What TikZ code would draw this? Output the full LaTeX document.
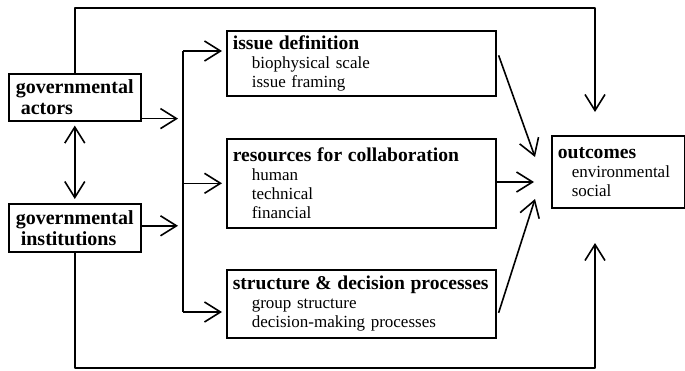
\documentclass[tikz,border=0pt]{standalone}
\usepackage{fontspec}
\setmainfont{Liberation Serif}
\usetikzlibrary{arrows.meta}
% heading and indented item lines inside the boxes
\newcommand\boxhead[1]{\mbox{\bfseries\fontsize{19.6}{19}\selectfont #1}}
\newcommand\subind{\hspace*{19pt}}
\begin{document}
\begin{tikzpicture}[x=1pt,y=-1pt,
  box/.style={draw, line width=1.6pt, inner xsep=6pt, inner ysep=0pt,
    align=left, anchor=north west, font=\fontsize{17}{19}\selectfont},
  wire/.style={line width=1.6pt, line join=round},
  arr/.style={wire, -{Straight Barb[length=16pt,width=20pt]}},
  dblarr/.style={wire, {Straight Barb[length=16pt,width=20pt]}-{Straight Barb[length=16pt,width=20pt]}}]
\useasboundingbox (0,0) rectangle (685,370);

% actors and institutions
\node[box, text width=118pt, minimum height=47pt, inner xsep=7pt,
  font=\bfseries\fontsize{20}{21}\selectfont] (actors) at (8,73)
  {governmental\\\hspace*{5pt}actors};
\node[box, text width=118pt, minimum height=48pt, inner xsep=7pt,
  font=\bfseries\fontsize{20}{21}\selectfont] (inst) at (8,203)
  {governmental\\\hspace*{5pt}institutions};

% middle column
\node[box, text width=257pt, minimum height=65pt] (issue) at (226,30)
  {\boxhead{issue definition}\\\subind biophysical scale\\\subind issue framing};
\node[box, text width=257pt, minimum height=89pt] (res) at (226,138)
  {\boxhead{resources for collaboration}\\\subind human\\\subind technical\\\subind financial};
\node[box, text width=257pt, minimum height=68pt] (struct) at (226,269)
  {\boxhead{structure \& decision processes}\\\subind group structure\\\subind decision-making processes};

% outcomes
\node[box, text width=121pt, minimum height=72pt] (out) at (551,135)
  {\boxhead{outcomes}\\\hspace*{14pt}environmental\\\hspace*{14pt}social};

% distribution bar
\coordinate (bartop) at (183,51);
\coordinate (barbot) at (183,312);
\draw[wire] (bartop) -- (barbot);

% feeds into the bar
\draw[arr, shorten >=5pt] ([yshift=3pt]actors.south east) -- ([yshift=3pt]actors.south east -| bartop);
\draw[arr, shorten >=5pt] ([yshift=2pt]inst.east) -- ([yshift=2pt]inst.east -| bartop);
\draw[dblarr, shorten <=4pt, shorten >=4pt] (actors.south) -- (inst.north);

% bar to middle boxes
\draw[arr, shorten >=4pt] (bartop) -- (issue.west |- bartop);
\draw[arr, shorten >=4pt] (bartop |- res.west) -- (res.west);
\draw[arr, shorten >=4pt] (barbot) -- (struct.west |- barbot);

% middle boxes to outcomes
\coordinate (tipA) at (535,157);
\coordinate (tipB) at (534,182);
\coordinate (tipC) at (535,199);
\draw[arr] ([xshift=2pt,yshift=8pt]issue.east) -- (tipA);
\draw[arr] (res.east |- tipB) -- (tipB);
\draw[arr] ([xshift=2pt,yshift=-9pt]struct.east) -- (tipC);

% direct routes around the middle column
\coordinate (topturn) at (595,8);
\coordinate (topend) at (595,112);
\coordinate (botturn) at (595,368);
\coordinate (botend) at (595,243);
\draw[arr] (actors.north) |- (topturn) -- (topend);
\draw[arr] (inst.south) |- (botturn) -- (botend);
\end{tikzpicture}
\end{document}
